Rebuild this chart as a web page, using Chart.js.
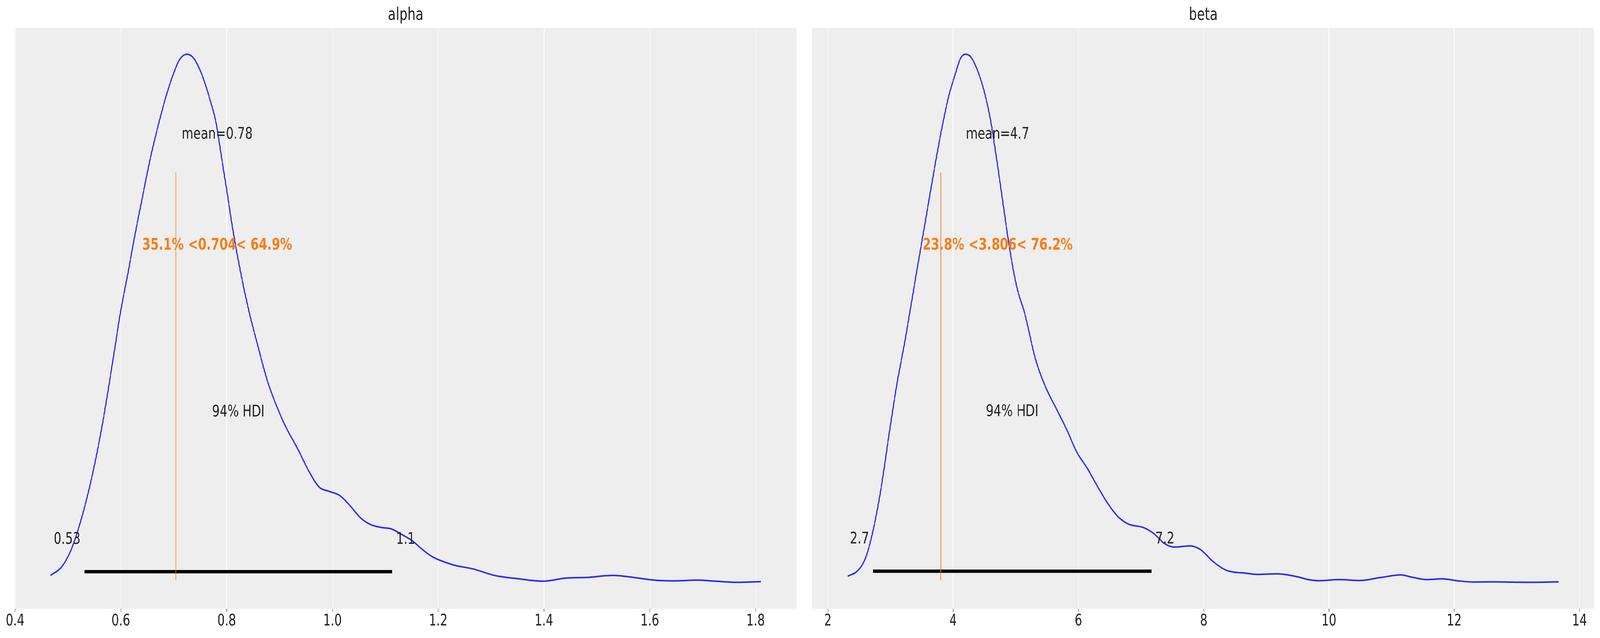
<!DOCTYPE html>
<html>
<head>
<meta charset="utf-8">
<script src="https://cdn.jsdelivr.net/npm/chart.js@4.4.1/dist/chart.umd.min.js"></script>
<style>
  html, body { margin: 0; padding: 0; background: #ffffff; overflow: hidden; }
  #stage { position: absolute; left: 0; top: 0; width: 5543px; height: 1633px; transform-origin: 0 0; }
  #stage canvas { position: absolute; top: 0; }
</style>
</head>
<body>
<div id="stage">
  <canvas id="alpha-chart" width="2786" height="1633" style="left:0;width:2786px;height:1633px"></canvas>
  <canvas id="beta-chart" width="2757" height="1633" style="left:2786px;width:2757px;height:1633px"></canvas>
</div>
<script>
/**
 * Data
 */
const alphaX = [0.467, 0.488, 0.507, 0.527, 0.546, 0.566, 0.585, 0.599, 0.614, 0.626, 0.641, 0.655, 0.670, 0.685,
  0.699, 0.711, 0.725, 0.738, 0.753, 0.767, 0.780, 0.789, 0.800, 0.811, 0.826, 0.843, 0.858, 0.877, 0.907, 0.936,
  0.955, 0.975, 0.994, 1.014, 1.033, 1.053, 1.072, 1.092, 1.111, 1.130, 1.150, 1.170, 1.189, 1.228, 1.267, 1.306,
  1.355, 1.398, 1.442, 1.481, 1.530, 1.569, 1.608, 1.647, 1.691, 1.725, 1.764, 1.810];
const alphaDensity = [0.047, 0.101, 0.218, 0.427, 0.685, 1.025, 1.415, 1.714, 1.979, 2.201, 2.456, 2.688, 2.900, 3.088,
  3.232, 3.326, 3.360, 3.333, 3.232, 3.088, 2.923, 2.732, 2.500, 2.258, 1.979, 1.714, 1.519, 1.284, 1.025, 0.840,
  0.712, 0.608, 0.581, 0.554, 0.491, 0.413, 0.370, 0.352, 0.343, 0.309, 0.269, 0.212, 0.165, 0.114, 0.087, 0.047,
  0.024, 0.010, 0.030, 0.034, 0.047, 0.034, 0.017, 0.012, 0.017, 0.010, 0.003, 0.007];

const betaX = [2.318, 2.485, 2.608, 2.731, 2.854, 2.977, 3.101, 3.224, 3.307, 3.434, 3.558, 3.681, 3.804, 3.927,
  4.030, 4.112, 4.194, 4.277, 4.379, 4.482, 4.585, 4.667, 4.750, 4.832, 4.914, 5.017, 5.140, 5.319, 5.483, 5.647,
  5.811, 5.976, 6.140, 6.304, 6.468, 6.633, 6.797, 7.043, 7.208, 7.372, 7.536, 7.783, 7.947, 8.152, 8.358, 8.686,
  8.850, 9.180, 9.510, 9.670, 9.836, 10.165, 10.490, 10.820, 11.150, 11.310, 11.560, 11.810, 12.050, 12.300, 12.630,
  12.960, 13.200, 13.668];
const betaDensity = [0.005, 0.010, 0.021, 0.045, 0.079, 0.122, 0.163, 0.197, 0.222, 0.261, 0.298, 0.335, 0.370, 0.400,
  0.418, 0.431, 0.435, 0.433, 0.423, 0.407, 0.384, 0.358, 0.329, 0.299, 0.271, 0.243, 0.222, 0.183, 0.160, 0.143,
  0.126, 0.107, 0.094, 0.079, 0.065, 0.054, 0.048, 0.045, 0.040, 0.032, 0.029, 0.030, 0.027, 0.017, 0.010, 0.0074,
  0.0065, 0.0070, 0.0044, 0.0022, 0.0013, 0.0022, 0.0015, 0.0039, 0.0061, 0.0044, 0.0022, 0.0029, 0.0013, 0.0002, 0.0004,
  0.0001, 0.0000, 0.0004];

const alphaTicks = [0.4, 0.6, 0.8, 1.0, 1.2, 1.4, 1.6, 1.8];
const betaTicks = [2, 4, 6, 8, 10, 12, 14];

const alphaHdi = [0.531, 1.113];
const betaHdi = [2.718, 7.167];
const alphaHdiLabels = ['0.53', '1.1'];
const betaHdiLabels = ['2.7', '7.2'];

const alphaMean = 0.782;
const betaMean = 4.71;
const alphaMeanLabel = 'mean=0.78';
const betaMeanLabel = 'mean=4.7';

const alphaRef = 0.704;
const betaRef = 3.806;
const alphaRefLabel = '35.1% <0.704< 64.9%';
const betaRefLabel = '23.8% <3.806< 76.2%';

/**
 * Methods
 */
const FONT = '"DejaVu Sans", sans-serif';
const TEXT = '#222222';
const BLUE = '#2a2eec';
const ORANGE = '#fa7c17';

// the stage is drawn at 5543 x 1633 and fitted to whatever the window really is
const fitStage = () => {
  const stage = document.getElementById('stage');
  const sx = window.innerWidth / 5543;
  const sy = window.innerHeight / 1633;
  stage.style.transform = `scale(${sx}, ${sy})`;
};

const createPanel = (canvasId, p) => {
  const ctx = document.getElementById(canvasId).getContext('2d');

  // matplotlib style limits: 5% margins on each side
  const xMin = Math.min(...p.x), xMax = Math.max(...p.x);
  const dMin = Math.min(...p.y), dMax = Math.max(...p.y);
  const xLo = xMin - 0.05 * (xMax - xMin), xHi = xMax + 0.05 * (xMax - xMin);
  const yLo = dMin - 0.05 * (dMax - dMin), yHi = dMax + 0.05 * (dMax - dMin);
  const plotHeight = yHi;
  const hdiY = plotHeight * 0.02;

  const background = {
    id: 'background',
    beforeDraw(chart) {
      const { ctx, chartArea: a } = chart;
      ctx.save();
      ctx.fillStyle = '#eeeeee';
      ctx.fillRect(a.left, a.top, a.right - a.left, a.bottom - a.top);
      ctx.restore();
    }
  };

  const labels = {
    id: 'labels',
    afterDatasetsDraw(chart) {
      const { ctx, scales: { x, y } } = chart;
      ctx.save();
      ctx.textBaseline = 'alphabetic';
      ctx.font = '41.7px ' + FONT;
      ctx.fillStyle = TEXT;
      ctx.textAlign = 'center';
      ctx.fillText(p.meanLabel, x.getPixelForValue(p.mean), y.getPixelForValue(plotHeight * 0.8));
      ctx.fillText('94% HDI', x.getPixelForValue((p.hdi[0] + p.hdi[1]) / 2), y.getPixelForValue(plotHeight * 0.3));
      ctx.textAlign = 'right';
      ctx.fillText(p.hdiLabels[0] + ' ', x.getPixelForValue(p.hdi[0]), y.getPixelForValue(plotHeight * 0.07));
      ctx.textAlign = 'left';
      ctx.fillText(' ' + p.hdiLabels[1], x.getPixelForValue(p.hdi[1]), y.getPixelForValue(plotHeight * 0.07));
      ctx.font = 'bold 41.7px ' + FONT;
      ctx.fillStyle = ORANGE;
      ctx.textAlign = 'center';
      ctx.fillText(p.refLabel, x.getPixelForValue(p.mean), y.getPixelForValue(plotHeight * 0.6));
      ctx.restore();
    }
  };

  return new Chart(ctx, {
    type: 'scatter',
    data: {
      datasets: [
        {
          label: p.title,
          data: p.x.map((v, i) => ({ x: v, y: p.y[i] })),
          showLine: true,
          borderColor: BLUE,
          borderWidth: 4,
          pointRadius: 0,
          cubicInterpolationMode: 'monotone',
          order: 0
        },
        {
          label: 'reference',
          data: [
            { x: p.ref, y: yLo + 0.05 * (yHi - yLo) },
            { x: p.ref, y: yLo + 0.75 * (yHi - yLo) }
          ],
          showLine: true,
          borderColor: 'rgba(250, 124, 23, 0.65)',
          borderWidth: 4,
          borderCapStyle: 'round',
          pointRadius: 0,
          order: 1
        },
        {
          label: '94% HDI',
          data: [
            { x: p.hdi[0], y: hdiY },
            { x: p.hdi[1], y: hdiY }
          ],
          showLine: true,
          borderColor: '#000000',
          borderWidth: 8.6,
          borderCapStyle: 'butt',
          pointRadius: 0,
          order: 2
        }
      ]
    },
    options: {
      responsive: false,
      animation: false,
      devicePixelRatio: 1,
      layout: { padding: p.padding },
      plugins: {
        legend: { display: false },
        tooltip: { enabled: false },
        title: {
          display: true,
          text: p.title,
          fullSize: false,
          color: TEXT,
          font: { family: FONT, size: 44.4, weight: 'normal' },
          padding: { top: 13, bottom: 5 }
        }
      },
      scales: {
        x: {
          type: 'linear',
          min: xLo,
          max: xHi,
          border: { display: false },
          grid: {
            color: '#ffffff',
            lineWidth: 2.2,
            drawTicks: true,
            tickLength: 8,
            tickColor: '#8a8a8a',
            tickWidth: 2.7
          },
          ticks: {
            autoSkip: false,
            maxRotation: 0,
            padding: 0,
            color: TEXT,
            font: { family: FONT, size: 40.5 },
            callback: (v) => p.tickFormat(v)
          },
          afterBuildTicks: (scale) => {
            scale.ticks = p.ticks.map((v) => ({ value: v }));
          },
          afterFit: (scale) => {
            scale.height = 75;
          }
        },
        y: {
          type: 'linear',
          display: false,
          min: yLo,
          max: yHi
        }
      }
    },
    plugins: [background, labels]
  });
};

/**
 * Events
 */
document.addEventListener('DOMContentLoaded', () => {
  fitStage();

  createPanel('alpha-chart', {
    title: 'alpha',
    x: alphaX, y: alphaDensity,
    ticks: alphaTicks, tickFormat: (v) => v.toFixed(1),
    hdi: alphaHdi, hdiLabels: alphaHdiLabels,
    mean: alphaMean, meanLabel: alphaMeanLabel,
    ref: alphaRef, refLabel: alphaRefLabel,
    padding: { left: 52, right: 27, top: 0, bottom: 0 }
  });
  createPanel('beta-chart', {
    title: 'beta',
    x: betaX, y: betaDensity,
    ticks: betaTicks, tickFormat: (v) => String(Math.round(v)),
    hdi: betaHdi, hdiLabels: betaHdiLabels,
    mean: betaMean, meanLabel: betaMeanLabel,
    ref: betaRef, refLabel: betaRefLabel,
    padding: { left: 28, right: 20, top: 0, bottom: 0 }
  });
});
</script>
</body>
</html>
